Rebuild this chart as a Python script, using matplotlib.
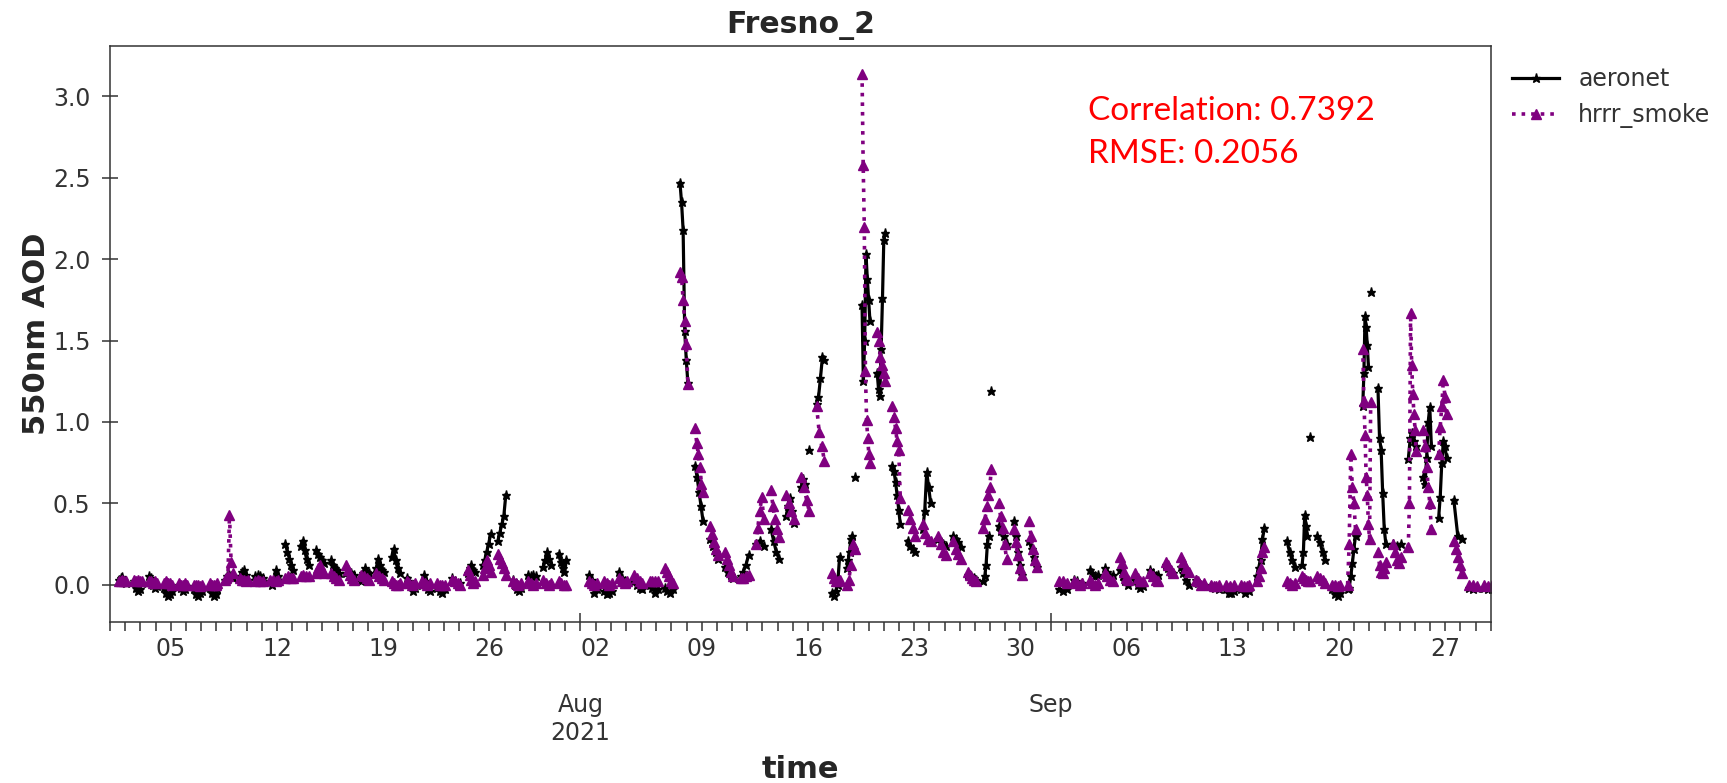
import numpy as np
import pandas as pd
import matplotlib
matplotlib.use("Agg")
import matplotlib.pyplot as plt
import matplotlib.dates as mdates
from matplotlib.ticker import FuncFormatter, FixedLocator

N = None
# one list per day (daytime samples, UTC), [] = no data; None = gap inside the day
aeronet_jul = [
    [0.03, 0.04, 0.045, 0.02, 0.01], [0.02, -0.02, -0.04, -0.03, 0.01], [0.05, 0.04, 0.0, -0.02, -0.01],
    [-0.02, -0.05, -0.07, -0.06, -0.04], [0.0, -0.02, -0.04, -0.03, -0.01], [-0.03, -0.06, -0.07, -0.05, -0.04],
    [-0.02, -0.05, -0.07, -0.06, -0.03], [0.03, 0.05, 0.06, 0.05, 0.04], [0.05, 0.08, 0.09, 0.06, 0.03],
    [0.05, 0.06, 0.05, 0.04], [0.02, 0.0, 0.03, 0.09, 0.05], [0.25, 0.2, 0.16, 0.12, 0.09],
    [0.24, 0.27, 0.21, 0.16, 0.12], [0.21, 0.19, 0.17, 0.15, 0.13], [0.15, 0.12, 0.1, 0.09, 0.07],
    [0.07, 0.08, 0.07, 0.06], [0.02, 0.07, 0.1, 0.08, 0.07], [0.1, 0.16, 0.12, 0.09, 0.08],
    [0.17, 0.22, 0.15, 0.1, 0.07], [0.04, 0.02, -0.01, -0.04, -0.02], [0.0, 0.06, 0.02, -0.03, -0.04],
    [-0.02, -0.04, -0.05, -0.03], [0.04, 0.02, 0.0, 0.01], [0.07, 0.1, 0.12, 0.09, 0.08],
    [0.12, 0.15, 0.2, 0.25, 0.31], [0.27, 0.32, 0.37, 0.42, 0.55], [0.03, 0.0, -0.03, -0.04, -0.02],
    [0.06, 0.05, 0.06, 0.05], [0.11, 0.15, 0.2, 0.16, 0.12], [0.19, 0.14, 0.1, 0.08, 0.15], [],
]
hrrr_jul = [
    [0.02, 0.02, 0.03, 0.02, 0.02], [0.03, 0.02, 0.03, 0.02, 0.02], [0.02, 0.02, 0.01, 0.02, 0.01],
    [0.01, 0.02, 0.01, 0.01, 0.0], [0.01, 0.0, 0.0, 0.01, 0.0], [0.0, 0.0, 0.0, -0.01, 0.0],
    [0.01, 0.0, 0.0, 0.0, 0.01], [0.03, 0.04, 0.05, 0.43, 0.14, 0.07], [0.04, 0.03, 0.03, 0.02, 0.03],
    [0.02, 0.03, 0.02, 0.02], [0.03, 0.03, 0.02, 0.03], [0.04, 0.05, 0.04, 0.04],
    [0.05, 0.06, 0.05, 0.05], [0.07, 0.1, 0.12, 0.09, 0.07], [0.07, 0.05, 0.04, 0.03],
    [0.12, 0.09, 0.06, 0.04, 0.03], [0.06, 0.05, 0.04, 0.03], [0.07, 0.05, 0.04, 0.03],
    [0.02, 0.01, 0.0, 0.0, 0.01], [0.02, 0.01, 0.0, 0.01], [0.02, 0.01, 0.0, 0.01],
    [0.01, 0.0, 0.0, 0.0], [0.03, 0.02, 0.01, 0.0], [0.09, 0.06, 0.03, 0.01, 0.02],
    [0.06, 0.1, 0.15, 0.12, 0.08], [0.19, 0.16, 0.13, 0.1, 0.06], [0.02, 0.01, 0.0, 0.01],
    [0.02, 0.01, 0.0, 0.01], [0.03, 0.01, 0.0, 0.01], [0.02, 0.01, 0.0, 0.0], [],
]
aeronet_aug = [
    [0.06, 0.03, -0.05, -0.03], [-0.04, -0.06, -0.05, -0.04], [0.08, 0.04, 0.02, 0.01],
    [0.02, 0.0, -0.02, -0.03], [0.0, -0.02, -0.05, -0.03], [-0.02, -0.04, -0.05, -0.03],
    [2.47, 2.35, 2.18, 1.56, 1.38, 1.24], [0.73, 0.66, 0.57, 0.48, 0.39], [0.28, 0.24, 0.2, 0.16],
    [0.11, 0.08, 0.06, 0.04], [0.05, 0.08, 0.12, 0.18], [0.25, 0.27, 0.24],
    [0.34, 0.27, 0.2, 0.16], [0.42, 0.48, 0.53, 0.45, 0.38], [0.6, 0.65, 0.62, N, 0.83],
    [1.11, 1.15, 1.27, 1.4, 1.38], [-0.05, -0.07, -0.04, 0.0, 0.17], [0.1, 0.15, 0.2, 0.28, 0.3, N, 0.66],
    [1.72, 1.25, 1.5, 2.03, 1.88, 1.75, 1.62], [1.3, 1.2, 1.16, 1.45, 1.76, 2.12, 2.16],
    [0.73, 0.7, 0.63, 0.55, 0.46, 0.37], [0.27, 0.24, 0.22, 0.2], [0.34, 0.45, 0.69, 0.6, 0.5],
    [0.28, 0.26, 0.25, 0.24], [0.3, 0.28, 0.26, 0.23], [0.06, 0.05, 0.04, 0.03],
    [0.02, 0.05, 0.12, 0.25, 0.3, N, 1.19], [0.36, 0.33, 0.3, 0.25], [0.39, 0.3, 0.2, 0.12, 0.06],
    [0.27, 0.22, 0.17, 0.11], [],
]
hrrr_aug = [
    [0.02, 0.01, 0.0, 0.01], [0.02, 0.01, 0.0, 0.01], [0.04, 0.02, 0.01, 0.02],
    [0.06, 0.04, 0.02, 0.01], [0.02, 0.02, 0.02, 0.02], [0.1, 0.08, 0.05, 0.02, 0.01],
    [1.92, 1.89, 1.75, 1.62, 1.48, 1.23], [0.96, 0.87, 0.8, 0.72, 0.62, 0.57], [0.36, 0.31, 0.26, 0.22, 0.18],
    [0.2, 0.16, 0.12, 0.08, 0.05], [0.04, 0.04, 0.05, 0.06], [0.25, 0.35, 0.45, 0.54, 0.4],
    [0.58, 0.48, 0.4, 0.34, 0.29], [0.55, 0.5, 0.45, 0.4], [0.66, 0.6, 0.52, 0.45],
    [1.1, 0.94, 0.85, 0.76], [0.07, 0.04, 0.02, 0.02, 0.03], [0.0, 0.03, 0.12, 0.25, 0.22],
    [3.14, 2.58, 2.2, 1.31, 1.01, 0.9, 0.8, 0.75], [1.55, 1.5, 1.4, 1.35, 1.3, 1.25],
    [1.1, 1.03, 0.96, 0.88, 0.83, 0.53], [0.46, 0.4, 0.35, 0.3], [0.37, 0.32, 0.28, 0.27],
    [0.3, 0.25, 0.2, 0.18], [0.27, 0.22, 0.19, 0.16], [0.08, 0.06, 0.04, 0.03, 0.02],
    [0.35, 0.4, 0.48, 0.55, 0.6, 0.71], [0.5, 0.42, 0.35, 0.25, 0.16], [0.34, 0.26, 0.18, 0.1, 0.06],
    [0.39, 0.3, 0.22, 0.15, 0.11], [],
]
aeronet_sep = [
    [-0.03, -0.04, -0.03], [0.03, 0.02, 0.0, 0.01], [0.09, 0.07, 0.05, 0.06],
    [0.1, 0.08, 0.05, 0.06], [0.09, 0.05, 0.02, 0.0], [0.03, 0.0, -0.02, -0.01],
    [0.09, 0.07, 0.05, 0.06], [0.12, 0.1, 0.08, 0.07], [0.11, 0.07, 0.03, 0.0],
    [0.03, 0.01, -0.01, 0.0], [-0.01, -0.02, -0.03], [-0.03, -0.05, -0.05, -0.04],
    [-0.03, -0.05, -0.04], [0.05, 0.1, 0.15, 0.28, 0.35], [],
    [0.27, 0.2, 0.15, 0.11], [0.12, 0.2, 0.43, 0.36, 0.3, N, 0.91], [0.3, 0.26, 0.2, 0.15],
    [-0.03, -0.06, -0.07, -0.05], [-0.03, -0.02, 0.05, 0.13, 0.22, 0.3],
    [1.1, 1.3, 1.65, 1.58, 1.47, 1.34, N, 1.8], [1.21, 0.9, 0.83, 0.56, 0.34, 0.25],
    [0.25, 0.24, 0.25], [0.77, 0.9, 0.93, 0.88, 0.85], [0.66, 0.62, 0.78, 1.0, 1.09, 0.85],
    [0.41, 0.54, 0.75, 0.88, 0.85, 0.78], [0.52, 0.3, 0.28], [-0.02, -0.03, -0.02], [-0.02, -0.03, -0.03],
]
hrrr_sep = [
    [0.02, 0.02, 0.01], [0.02, 0.01, 0.0, 0.01], [0.03, 0.01, 0.0, 0.01],
    [0.07, 0.05, 0.03, 0.02], [0.17, 0.13, 0.08, 0.04, 0.03], [0.07, 0.04, 0.02, 0.02],
    [0.07, 0.05, 0.03, 0.02], [0.14, 0.12, 0.09, 0.07], [0.17, 0.14, 0.1, 0.08],
    [0.03, 0.02, 0.0, 0.01], [0.0, -0.01, -0.01, 0.0], [0.0, -0.01, 0.0],
    [0.0, -0.01, -0.01, 0.0], [0.02, 0.05, 0.1, 0.2, 0.23], [],
    [0.02, 0.01, 0.0, 0.01], [0.05, 0.04, 0.03, 0.02, 0.02], [0.05, 0.04, 0.03, 0.01],
    [0.0, 0.0, -0.01, 0.0], [0.0, 0.25, 0.8, 0.6, 0.5, 0.34],
    [1.45, 1.13, 0.92, 0.66, 0.55, 0.37, 0.28, 1.12], [0.2, 0.12, 0.08, 0.07, 0.1, 0.14],
    [0.25, 0.2, 0.15, 0.13, 0.17], [0.23, 0.5, 1.67, 1.35, 1.17, 1.05, 0.95, 0.82],
    [0.95, 0.85, 0.72, 0.6, 0.5, 0.34], [0.8, 0.97, 1.1, 1.26, 1.15, 1.05],
    [0.27, 0.22, 0.17, 0.12, 0.07], [0.0, 0.0, -0.01], [0.0, -0.01, 0.0],
]
month_starts = ["2021-07-01", "2021-08-01", "2021-09-01"]
month_ticks = ["2021-08-01", "2021-09-01"]
month_labels = ["Aug\n2021", "Sep"]
series_names = ["aeronet", "hrrr_smoke"]
title_text = "Fresno_2"
stats_text = ["Correlation: 0.7392", "RMSE: 0.2056"]


def build(months):
    times, vals = [], []
    for start, days in zip(month_starts, months):
        t0 = pd.Timestamp(start)
        for i, day in enumerate(days):
            if not day:
                continue
            base = t0 + pd.Timedelta(days=i)
            hrs = np.linspace(13.5, 26.0, len(day))
            for h, v in zip(hrs, day):
                times.append(base + pd.Timedelta(hours=float(h)))
                vals.append(np.nan if v is None else v)
            times.append(base + pd.Timedelta(hours=27))
            vals.append(np.nan)
    return pd.to_datetime(times), np.array(vals, dtype=float)


t_a, v_a = build([aeronet_jul, aeronet_aug, aeronet_sep])
t_h, v_h = build([hrrr_jul, hrrr_aug, hrrr_sep])

W, H = 1727, 783
fig = plt.figure(figsize=(W / 100, H / 100), dpi=100)
ax = fig.add_axes([110 / W, 1 - 622 / H, (1490.8 - 110) / W, (622 - 46) / H])

ax.plot(t_a, v_a, color="black", ls="-", lw=2.3, marker="*", ms=6.5, label=series_names[0])
ax.plot(t_h, v_h, color="purple", ls=":", lw=2.6, marker="^", ms=7.5, label=series_names[1])

ax.set_xlim(pd.Timestamp("2021-07-01"), pd.Timestamp("2021-09-30"))
ax.set_ylim(-0.23, 3.31)
ax.set_yticks(np.arange(0, 3.01, 0.5))
ax.yaxis.set_major_formatter(FuncFormatter(lambda v, p: f"{v:.1f}"))

major_pos = [mdates.date2num(pd.Timestamp(d)) for d in month_ticks]
ax.xaxis.set_major_locator(FixedLocator(major_pos))
ax.xaxis.set_minor_locator(mdates.DayLocator())


def major_fmt(x, pos):
    for p, lab in zip(major_pos, month_labels):
        if abs(x - p) < 0.01:
            return lab
    return ""


def minor_fmt(x, pos):
    d = mdates.num2date(x)
    return d.strftime("%d") if d.weekday() == 0 else ""


ax.xaxis.set_major_formatter(FuncFormatter(major_fmt))
ax.xaxis.set_minor_formatter(FuncFormatter(minor_fmt))

tc = "#333333"
ax.tick_params(axis="y", which="major", direction="inout", length=12, width=1.1, pad=8,
               labelsize=17, color=tc, labelcolor=tc)
ax.tick_params(axis="x", which="major", direction="inout", length=13, width=1.1, pad=44.5,
               labelsize=17, color=tc, labelcolor=tc)
ax.tick_params(axis="x", which="minor", direction="out", length=6.5, width=1.1, pad=4,
               labelsize=17, color=tc, labelcolor=tc)
for s in ax.spines.values():
    s.set_color(tc)
    s.set_linewidth(1.1)

ax.set_title(title_text, fontsize=21.5, fontweight="bold", color="#262626", pad=9.5)
ax.set_xlabel("time", fontsize=22, fontweight="bold", color="#262626", labelpad=7.5)
ax.set_ylabel("550nm AOD", fontsize=22, fontweight="bold", color="#262626", labelpad=1.5)

ax.legend(loc="upper left", bbox_to_anchor=(1.0, 1.0), frameon=False, fontsize=17,
          borderaxespad=0.5, labelcolor=tc)

fig.text(1088 / W, 1 - 120 / H, stats_text[0], color="red", fontsize=24, family="Lato", va="baseline")
fig.text(1088 / W, 1 - 163 / H, stats_text[1], color="red", fontsize=24, family="Lato", va="baseline")

fig.savefig("out.png", dpi=100)
